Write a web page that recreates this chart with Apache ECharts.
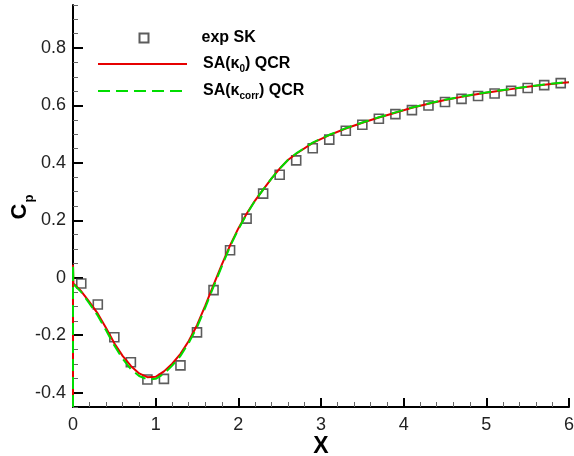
<!DOCTYPE html>
<html>
<head>
<meta charset="utf-8">
<script src="https://cdn.jsdelivr.net/npm/echarts@6/dist/echarts.min.js"></script>
<style>
html,body{margin:0;padding:0;background:#fff;}
#chart{width:574px;height:456px;}
</style>
</head>
<body>
<div id="chart"></div>
<script>
// ---- data ----
var expX = [0.1,0.3,0.5,0.7,0.9,1.1,1.3,1.5,1.7,1.9,2.1,2.3,2.5,2.7,2.9,3.1,3.3,3.5,3.7,3.9,4.1,4.3,4.5,4.7,4.9,5.1,5.3,5.5,5.7,5.9];
var expCp = [-0.02,-0.093,-0.207,-0.294,-0.354,-0.352,-0.305,-0.19,-0.043,0.096,0.206,0.293,0.359,0.409,0.451,0.481,0.512,0.533,0.554,0.570,0.584,0.600,0.612,0.623,0.633,0.642,0.651,0.661,0.671,0.678];

var simX = [0,0,0.005,0.1,0.2,0.3,0.4,0.5,0.6,0.7,0.8,0.9,1.0,1.1,1.2,1.3,1.4,1.5,1.6,1.7,1.8,1.9,2.0,2.1,2.2,2.3,2.4,2.5,2.6,2.7,2.9,3.1,3.3,3.5,3.7,3.9,4.1,4.3,4.5,4.7,4.9,5.1,5.3,5.5,5.7,5.9,6.0];
var cpK0 = [-0.45,0.045,-0.02,-0.047,-0.085,-0.125,-0.175,-0.228,-0.272,-0.307,-0.333,-0.346,-0.345,-0.326,-0.299,-0.265,-0.220,-0.165,-0.097,-0.025,0.046,0.113,0.172,0.223,0.268,0.307,0.345,0.380,0.410,0.432,0.470,0.497,0.520,0.540,0.558,0.575,0.592,0.606,0.619,0.630,0.640,0.649,0.657,0.665,0.672,0.678,0.681];
var cpKcorr = [-0.45,0.045,-0.022,-0.050,-0.090,-0.132,-0.183,-0.236,-0.282,-0.318,-0.342,-0.354,-0.352,-0.334,-0.306,-0.272,-0.227,-0.172,-0.104,-0.031,0.040,0.109,0.169,0.221,0.267,0.307,0.345,0.380,0.410,0.433,0.471,0.498,0.521,0.541,0.559,0.576,0.593,0.607,0.620,0.631,0.641,0.650,0.658,0.666,0.673,0.679,0.682];

var yMajorTicks = [-0.4,-0.2,0,0.2,0.4,0.6,0.8];
var yMinorTicks = [-0.45,-0.35,-0.3,-0.25,-0.15,-0.1,-0.05,0.05,0.1,0.15,0.25,0.3,0.35,0.45,0.5,0.55,0.65,0.7,0.75,0.85,0.9,0.95];
var xTicks = [0,1,2,3,4,5,6];
var xTitle = 'X';
var yTitle = '{c|C}{p|p}';

var seriesNames = ['exp SK','SA(κ0) QCR','SA(κcorr) QCR'];
var legendLabels = {
  'exp SK': 'exp SK',
  'SA(κ0) QCR': 'SA(κ{s|0}) QCR',
  'SA(κcorr) QCR': 'SA(κ{s|corr}) QCR'
};

function zip(xs, ys){ return xs.map(function(x,i){ return [x, ys[i]]; }); }

var FONT = "'Liberation Sans', Arial, sans-serif";
var legendRich = {
  s: {fontSize: 10, fontWeight: 'bold', fontFamily: FONT, color: '#000', padding: [10,0,0,0], verticalAlign: 'top'}
};
function legendBase(top, name, left, w, h, pad, hideSymbol){
  var l = {
    top: top, left: left, orient: 'vertical', itemWidth: w, itemHeight: h,
    data: [name],
    selectedMode: false,
    formatter: function(n){ return legendLabels[n]; },
    textStyle: {fontSize: 16, fontWeight: 'bold', fontFamily: FONT, color: '#000', padding: [0,0,0,pad], rich: legendRich}
  };
  if (hideSymbol) { l.itemStyle = {opacity: 0}; }
  return l;
}

var chart = echarts.init(document.getElementById('chart'));
chart.setOption({
  animation: false,
  backgroundColor: '#fff',
  grid: {left: 73, right: 5, top: 5, bottom: 49, containLabel: false, outerBoundsMode: 'none'},
  legend: [
    legendBase(25, seriesNames[0], 133.5, 9, 9, 48, false),
    legendBase(51, seriesNames[1], 92, 89, 14, 11, true),
    legendBase(78, seriesNames[2], 92, 89, 14, 11, true)
  ],
  graphic: [{
    type: 'text', x: 321, y: 447, z: 10,
    style: {text: xTitle, fontSize: 23, fontWeight: 'bold', fontFamily: FONT, fill: '#000', align: 'center', verticalAlign: 'middle'}
  }, {
    type: 'text', x: 22, y: 207, rotation: Math.PI / 2, z: 10,
    style: {text: yTitle, align: 'center', verticalAlign: 'middle', rich: {
      c: {fontSize: 22, fontWeight: 'bold', fontFamily: FONT, fill: '#000', verticalAlign: 'top'},
      p: {fontSize: 13, fontWeight: 'bold', fontFamily: FONT, fill: '#000', verticalAlign: 'top', padding: [14,0,0,1]}
    }}
  }],
  xAxis: {
    type: 'value', min: 0, max: 6, interval: 1,
    axisLine: {onZero: false, lineStyle: {color: '#000', width: 2}},
    axisTick: {inside: true, length: 9, lineStyle: {color: '#000', width: 2}},
    minorTick: {show: true, splitNumber: 5, length: 5, lineStyle: {color: '#666', width: 1}},
    axisLabel: {fontSize: 18, fontFamily: FONT, color: '#222', margin: 9},
    splitLine: {show: false}
  },
  yAxis: [{
    type: 'value', min: -0.45, max: 0.95,
    axisLine: {show: true, onZero: false, lineStyle: {color: '#000', width: 2}},
    axisTick: {show: true, inside: true, length: 10, customValues: yMajorTicks, lineStyle: {color: '#000', width: 2}},
    axisLabel: {fontSize: 18, fontFamily: FONT, color: '#222', margin: 7, customValues: yMajorTicks,
      formatter: function(v){ return String(Math.round(v*10)/10); }},
    splitLine: {show: false}
  }, {
    type: 'value', min: -0.45, max: 0.95, position: 'left',
    axisLine: {show: false, onZero: false},
    axisTick: {show: true, inside: true, length: 5, customValues: yMinorTicks, lineStyle: {color: '#666', width: 1}},
    axisLabel: {show: false},
    splitLine: {show: false}
  }],
  series: [{
    name: seriesNames[0], type: 'scatter', data: zip(expX, expCp),
    symbol: 'rect', symbolSize: 9, z: 2,
    itemStyle: {color: 'rgba(255,255,255,0)', borderColor: '#333', borderWidth: 1.6}
  }, {
    name: seriesNames[1], type: 'line', data: zip(simX, cpK0),
    showSymbol: false, symbol: 'none', z: 3, clip: true,
    lineStyle: {color: '#e60000', width: 2}, itemStyle: {color: '#e60000'}
  }, {
    name: seriesNames[2], type: 'line', data: zip(simX, cpKcorr),
    showSymbol: false, symbol: 'none', z: 4, clip: true,
    lineStyle: {color: '#00dd00', width: 2, type: [12,6]}, itemStyle: {color: '#00dd00'}
  }]
});
</script>
</body>
</html>
